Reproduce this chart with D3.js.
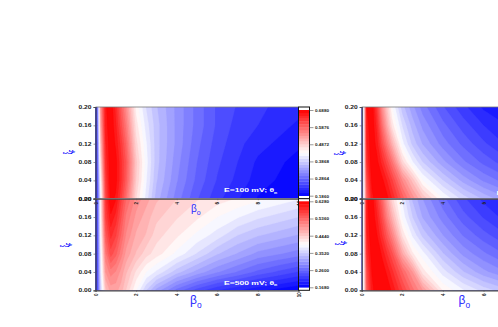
<!DOCTYPE html>
<html><head><meta charset="utf-8">
<script src="https://cdn.jsdelivr.net/npm/d3@7"></script>
<style>html,body{margin:0;padding:0;background:#fff;overflow:hidden}svg{display:block}text{font-family:"Liberation Sans",sans-serif}</style>
</head><body><svg id="c" width="498" height="327"></svg>
<script>
// values are colour levels: 0 = scale minimum (blue), 50 = white, 100 = scale maximum (red)
const betas = [0,.1,.25,.5,.75,1,1.25,1.5,2,2.5,3,4,5,6,7,8,9,10];
const xis = [0,.04,.08,.12,.16,.2];
const xTicks = [0,2,4,6,8,10];
const yTicks = [0,.04,.08,.12,.16,.2];
const panelA = [
 [5,15,45,85,98,96,88,78,57,45,35,25,17,11,7,3,1,0],
 [5,16,50,88,100,98,91,82,60,47,37,27,19,13,9,5,3,1],
 [5,17,56,91,100,98,91,83,61,48,38,28,20,14,10,6,4,2],
 [5,18,61,93,100,96,89,80,58,47,38,29,21,15,11,8,6,4],
 [5,19,66,95,100,94,85,76,55,45,38,29,22,16,12,10,8,6],
 [5,20,70,96,100,92,82,72,52,43,37,29,22,16,13,11,9,8]];
const panelB = [
 [5,15,40,62,68,68,65,60,50,40,32,22,15,10,7,4,2,0],
 [5,15,43,70,75,73,69,64,56,50,46,38,32,27,23,19,16,13],
 [5,15,45,76,85,81,75,69,63,58,55,49,43,37,33,29,27,25],
 [5,15,48,82,91,87,80,73,66,63,58,54,49,45,40,37,35,33],
 [5,15,50,87,96,92,84,76,69,65,61,57,54,50,47,44,42,40],
 [5,15,52,90,100,97,88,80,72,68,64,60,57,55,53,51,49,47]];
const panelC = [
 [5,45,80,95,100,100,98,93,82,72,63,50,42,36,31,27,24,21],
 [5,45,85,98,100,98,93,87,73,62,50,40,32,26,22,19,16,14],
 [5,45,90,100,98,92,85,77,58,47,40,31,24,19,15,12,10,8],
 [5,45,93,100,95,85,75,65,48,39,33,25,19,14,10,8,6,5],
 [5,45,95,100,92,78,66,55,43,35,29,21,15,10,7,5,3,2],
 [5,45,97,100,88,72,60,50,38,31,25,17,11,6,4,2,1,0]];
const panelD = [
 [5,50,82,95,100,100,99,96,87,78,70,53,47,42,38,34,30,27],
 [5,50,85,97,100,99,96,91,80,70,55,45,37,31,27,23,20,17],
 [5,50,90,99,100,96,90,84,67,54,48,37,29,24,20,17,14,12],
 [5,50,93,100,97,90,82,74,56,46,39,30,23,18,14,11,9,7],
 [5,50,95,100,94,85,74,65,49,40,33,25,18,13,9,7,5,4],
 [5,50,96,100,90,80,68,58,46,36,30,21,14,9,6,4,3,2]];
const barLabelsTop = ["0.1860","0.2864","0.3868","0.4872","0.5876","0.6880"];
const barLabelsBottom = ["0.1680","0.2600","0.3520","0.4440","0.5360","0.6280"];
const labelTop = "E=100 mV; θ";
const labelBottom = "E=500 mV; θ";

const svg = d3.select("#c");
const fillLayer = svg.append("g");
const axisLayer = svg.append("g");
const thresholds = d3.range(0,100,100/30);
const color = t => {
  const u = Math.max(0,Math.min(100,t));
  if (u<=50){const c=Math.round(255*u/50);return `rgb(${c},${c},255)`;}
  const c=Math.round(255*(100-u)/50);return `rgb(255,${c},${c})`;
};
const defs = svg.append("defs");
let clipId = 0;

function stretched(sel,len){ sel.attr("textLength",len).attr("lengthAdjust","spacingAndGlyphs"); }

function panel(grid,x0,yTop,yBot){
  const x = d3.scaleLinear().domain([0,10]).range([x0,x0+203]);
  const y = d3.scaleLinear().domain([0,.2]).range([yBot,yTop]);
  const bx = d3.scaleLinear().domain(d3.range(betas.length)).range(betas).clamp(true);
  const by = d3.scaleLinear().domain(d3.range(xis.length)).range(xis).clamp(true);
  const id = "cl"+(clipId++);
  defs.append("clipPath").attr("id",id).append("rect")
    .attr("x",x(0)).attr("y",yTop).attr("width",x(10)-x(0)).attr("height",yBot-yTop);
  const g = fillLayer.append("g").attr("clip-path",`url(#${id})`);
  g.append("rect").attr("x",x(0)).attr("y",yTop).attr("width",x(10)-x(0)).attr("height",yBot-yTop).attr("fill",color(0));
  const proj = d3.geoTransform({point(px,py){ this.stream.point(x(bx(px-.5)),y(by(py-.5))); }});
  const path = d3.geoPath(proj);
  const cs = d3.contours().size([betas.length,xis.length]).thresholds(thresholds)(grid.flat());
  g.selectAll("path").data(cs).join("path").attr("d",path)
    .attr("fill",d=>color(d.value+100/60)).attr("stroke",d=>color(d.value+100/60)).attr("stroke-width",.3).attr("fill-rule","evenodd");
  axisLayer.append("path").attr("d",`M${x(0)},${yTop}H${x(10)}`).attr("stroke","#777").attr("stroke-width",.8).attr("fill","none");
  const ax = d3.axisBottom(x).tickValues(xTicks).tickSize(1.5).tickPadding(2).tickFormat(d3.format("d"));
  const ay = d3.axisLeft(y).tickValues(yTicks).tickSize(2).tickPadding(2).tickFormat(d3.format(".2f"));
  const gx = axisLayer.append("g").attr("transform",`translate(0,${yBot})`).call(ax);
  const gy = axisLayer.append("g").attr("transform",`translate(${x(0)},0)`).call(ay);
  [gx,gy].forEach(a=>{a.selectAll("path").attr("stroke","#444").attr("stroke-width",1.2);
    a.selectAll("line").attr("stroke","#555").attr("stroke-width",.6);
    a.selectAll("text").attr("fill","#222").attr("font-size",4.6).attr("font-weight","bold");});
  gy.selectAll("text").call(stretched,13);
  // tick numbers on the x axis are turned sideways in the reference
  gx.selectAll("text").attr("y",null).attr("dy",".35em").attr("text-anchor","middle")
    .attr("transform","translate(0,4.5) rotate(-90)");
}

function blueBeta(xp,yp,fs){
  const t = axisLayer.append("text").attr("x",xp).attr("y",yp).attr("fill","#2a2aff").attr("font-size",fs).attr("font-family","DejaVu Sans");
  t.append("tspan").text("β");
  t.append("tspan").text("o").attr("font-size",fs*.7).attr("dy",fs*.3);
}
function xiLabel(cx,cy){
  const t = axisLayer.append("text").attr("transform",`translate(${cx},${cy}) rotate(-90) scale(.6,1.5)`)
    .attr("text-anchor","middle").attr("fill","#1a1aff").attr("font-size",9).attr("font-weight","bold").attr("font-family","DejaVu Sans");
  t.append("tspan").text("ξ");
  t.append("tspan").text("F").attr("font-size",6).attr("dy",2);
}
function note(txt,xp,yp){
  const t = axisLayer.append("text").attr("x",xp).attr("y",yp).attr("fill","#fff").attr("font-size",5).attr("font-weight","bold");
  t.append("tspan").text(txt).attr("textLength",50).attr("lengthAdjust","spacingAndGlyphs");
  t.append("tspan").text("m").attr("font-size",3.5).attr("dy",1.5);
}
function colorbar(labels,yTop,yBot,yLow,yHigh){
  const X0=298.5,X1=309.5;
  const lv = d3.scalePoint().domain(labels).range([yLow,yHigh]);
  const s = d3.scaleLinear().domain([0,100]).range([yLow,yHigh]);
  axisLayer.append("rect").attr("x",X0).attr("y",yTop).attr("width",X1-X0).attr("height",yBot-yTop).attr("fill","#fff");
  axisLayer.append("g").selectAll("rect").data(thresholds).join("rect")
    .attr("x",X0).attr("width",X1-X0)
    .attr("y",d=>s(d+100/30)).attr("height",d=>s(d)-s(d+100/30)+.3)
    .attr("fill",d=>color(d+100/60));
  axisLayer.append("rect").attr("x",X0).attr("y",yTop).attr("width",X1-X0).attr("height",yBot-yTop)
    .attr("fill","none").attr("stroke","#111").attr("stroke-width",1);
  const a = d3.axisRight(lv).tickSize(4).tickPadding(1.5);
  const g = axisLayer.append("g").attr("transform",`translate(${X1},0)`).call(a);
  g.select("path").remove();
  g.selectAll("line").attr("stroke","#555").attr("stroke-width",.6);
  g.selectAll("text").attr("fill","#222").attr("font-size",4.3).attr("font-weight","bold").call(stretched,14);
}

panel(panelA,95.5,107,198.7);
panel(panelB,95.5,198.7,290.3);
panel(panelC,361.7,107,198.7);
panel(panelD,361.7,198.7,290.3);
colorbar(barLabelsTop,107,198.7,195.7,110);
colorbar(barLabelsBottom,198.7,290.3,287.3,201.3);
note(labelTop,224,192);
note(labelBottom,224,284.5);
note(labelTop,496.5,195);
blueBeta(191,212,10);
blueBeta(190,304,12);
blueBeta(458.5,304,12);
blueBeta(496.5,206,8);
xiLabel(72,152);
xiLabel(69,245);
xiLabel(343,153);
xiLabel(344,243);
</script></body></html>
